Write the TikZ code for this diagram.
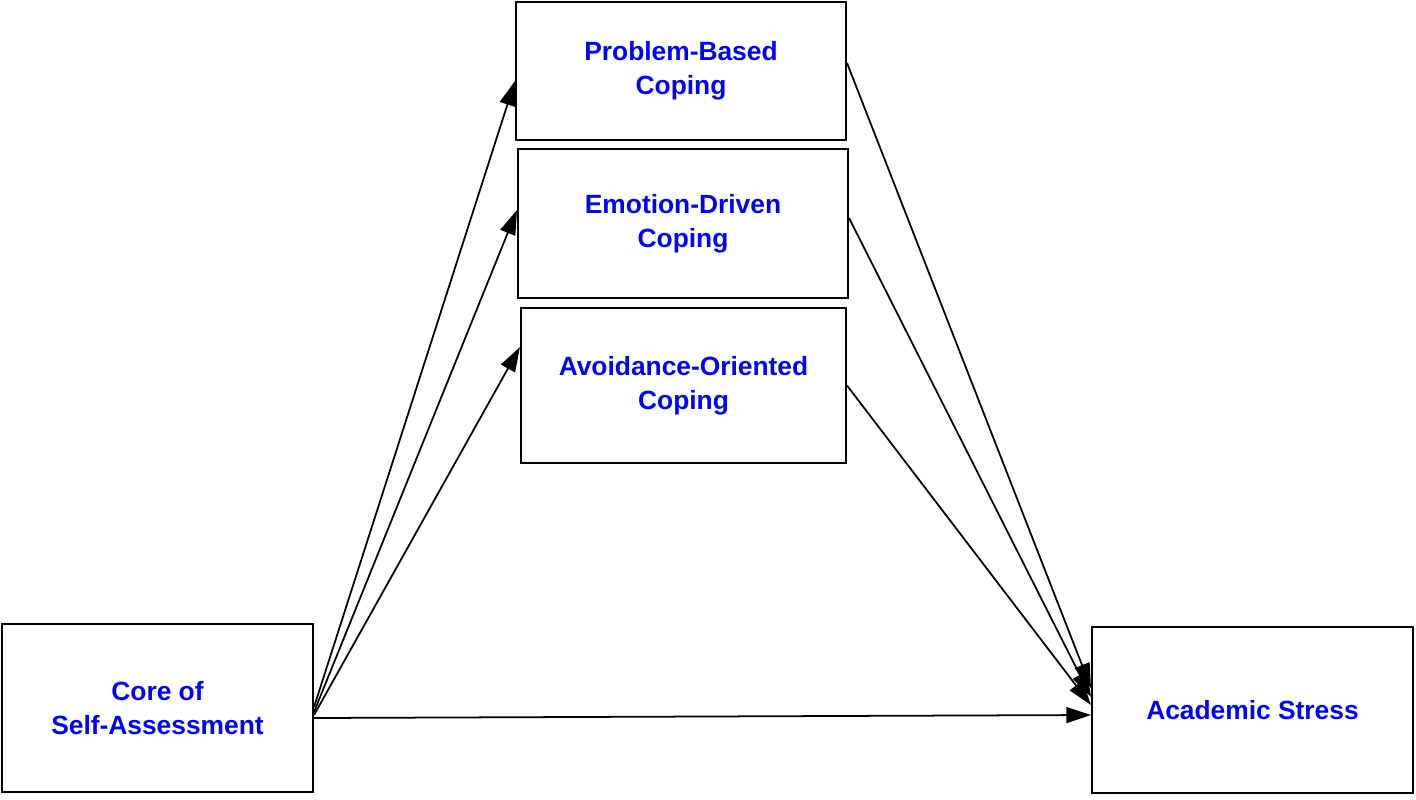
\documentclass[tikz,border=0pt]{standalone}
\usepackage{fontspec}
\setmainfont{Liberation Sans}
\usepackage{tikz}
\usetikzlibrary{arrows.meta}
\usetikzlibrary{positioning}

\tikzset{
	box/.style={draw,rectangle,line width=1.2pt,align=center,font=\fontsize{15}{19.5}\selectfont\bfseries,text=blue},
	link/.style={->,line width=1pt}
}

\begin{document}
\begin{tikzpicture}[x=0.02cm,y=-0.02cm,>={Triangle[length=14pt,width=9pt]}]
	\useasboundingbox (0,0) rectangle (1416,799);
	
	% mediators
	\node[box,minimum width=6.6cm,minimum height=2.76cm] (pbc) at (681,71) {Problem-Based\\Coping};
	\node[box,minimum width=6.6cm,minimum height=2.98cm] (edc) at (683,223.5) {Emotion-Driven\\Coping};
	\node[box,minimum width=6.5cm,minimum height=3.1cm] (aoc) at (683.5,385.5) {Avoidance-Oriented\\Coping};
	
	% predictor and outcome
	\node[box,minimum width=6.22cm,minimum height=3.36cm] (core) at (157.5,708) {Core of\\Self-Assessment};
	\node[box,minimum width=6.42cm,minimum height=3.32cm] (stress) at (1252.5,710) {Academic Stress};
	
	% paths a
	\draw[link] ([yshift=0.02cm]core.east) -- ([yshift=-0.2cm]pbc.west);
	\draw[link] ([yshift=-0.08cm]core.east) -- ([yshift=0.27cm]edc.west);
	\draw[link] ([yshift=-0.14cm]core.east) -- ([yshift=0.77cm]aoc.west);
	
	% paths b
	\draw[link] ([yshift=0.16cm]pbc.east) -- ([yshift=0.44cm]stress.west);
	\draw[link] ([yshift=0.11cm]edc.east) -- ([yshift=0.26cm]stress.west);
	\draw[link] (aoc.east) -- ([yshift=0.1cm]stress.west);
	
	% direct path
	\draw[link] ([yshift=-0.2cm]core.east) -- ([yshift=-0.1cm]stress.west);
	
\end{tikzpicture}
\end{document}
